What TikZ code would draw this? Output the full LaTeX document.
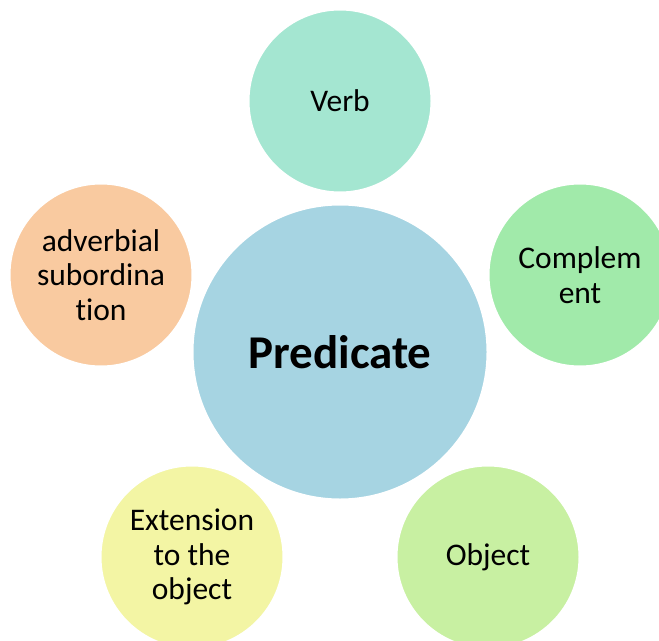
\documentclass[tikz,border=0pt]{standalone}
\usepackage{fontspec}
\setmainfont{Carlito}[Ligatures={NoCommon,NoRare}]
\definecolor{cverb}{RGB}{164,230,209}
\definecolor{cadv}{RGB}{249,202,160}
\definecolor{ccomp}{RGB}{161,234,170}
\definecolor{cpred}{RGB}{166,212,226}
\definecolor{cext}{RGB}{243,245,164}
\definecolor{cobj}{RGB}{200,240,162}
\tikzset{
  bubble/.style={circle, draw=white, line width=3bp, minimum size=184bp, inner sep=0pt,
    align=center, font=\fontsize{31.5bp}{34.5bp}\selectfont, text=black},
  bigbubble/.style={bubble, minimum size=296bp, font=\fontsize{47bp}{52bp}\selectfont\bfseries}
}
\begin{document}
\begin{tikzpicture}[x=1bp,y=-1bp]
\useasboundingbox (0,0) rectangle (659,641);
\node[bubble, fill=cverb] (verb) at (340,101) {Verb};
\node[bubble, fill=cadv] (adv) at (101,275) {adverbial\\subordina\\tion};
\node[bubble, fill=ccomp] (comp) at (580,275) {Complem\\ent};
\node[bubble, fill=cext] (ext) at (192,557) {Extension\\to the\\object};
\node[bubble, fill=cobj] (obj) at (488,557) {Object};
\node[bigbubble, fill=cpred] (pred) at (340,352) {Predicate};
\end{tikzpicture}
\end{document}
